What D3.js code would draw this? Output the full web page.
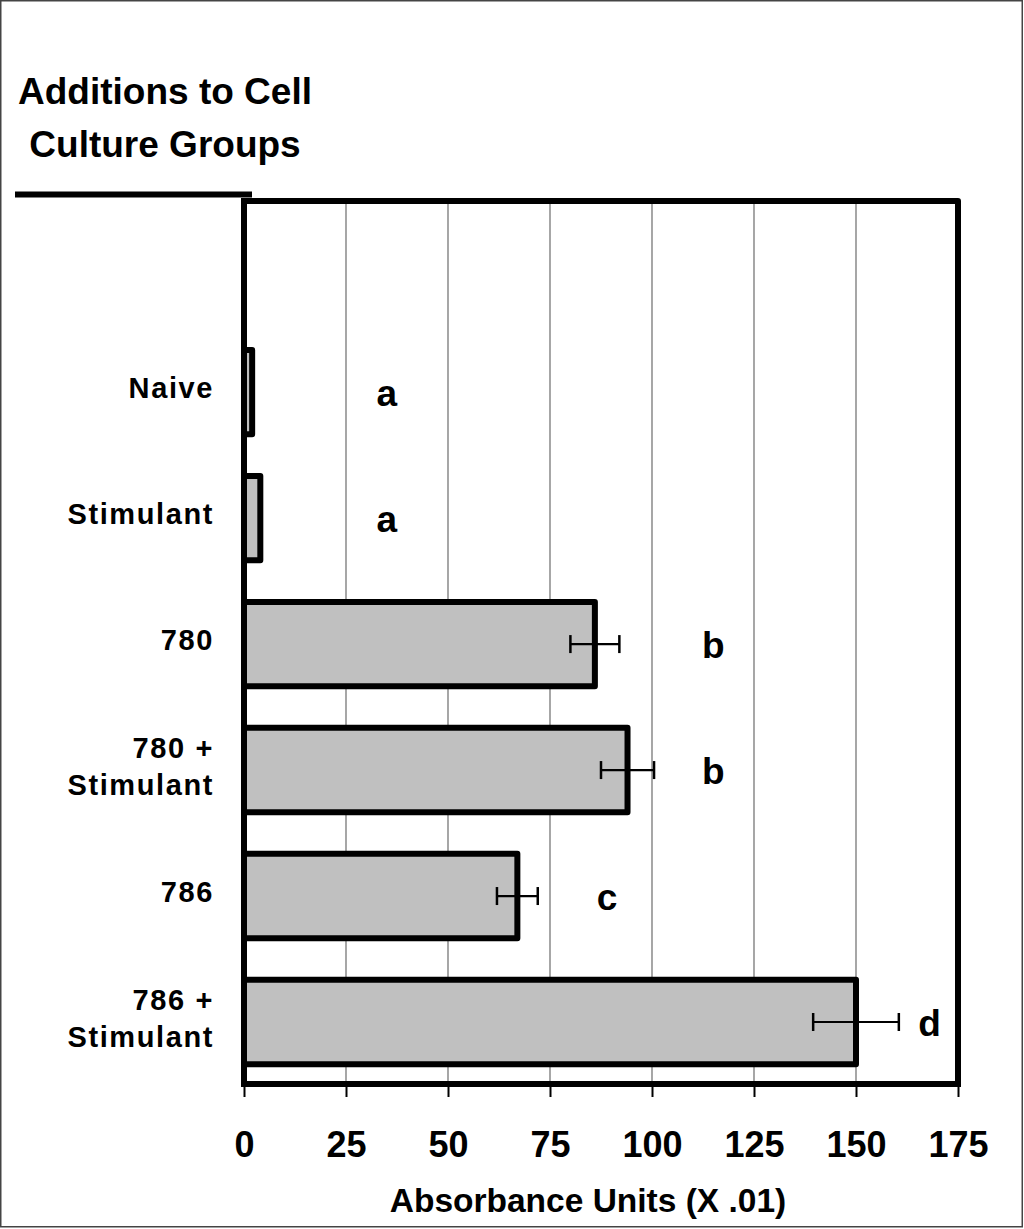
<!DOCTYPE html>
<html>
<head>
<meta charset="utf-8">
<script src="https://cdn.jsdelivr.net/npm/d3@7"></script>
<style>
  html, body { margin: 0; padding: 0; background: #fff; }
  svg { display: block; font-family: "Liberation Sans", Arial, Helvetica, sans-serif; font-weight: bold; }
</style>
</head>
<body>
<script>
// ---- data ----
const categories = ["Naive", "Stimulant", "780", "780 + Stimulant", "786", "786 + Stimulant"];
const categoryLines = [["Naive"], ["Stimulant"], ["780"], ["780 +", "Stimulant"], ["786"], ["786 +", "Stimulant"]];
const values = [2, 4, 86, 94, 67, 150];
const errors = [null, null, 6, 6.5, 5, 10.5];
const letters = ["a", "a", "b", "b", "c", "d"];
const letterAt = [35, 35, 115, 115, 89, 168];
const xTicks = [0, 25, 50, 75, 100, 125, 150, 175];
const titleLines = ["Additions to Cell", "Culture Groups"];
const xTitle = "Absorbance Units (X .01)";

// ---- layout ----
const W = 1024, H = 1229;
const plot = { left: 244, right: 958, top: 201, bottom: 1084 };

const svg = d3.select("body").append("svg").attr("width", W).attr("height", H);

// outer border
svg.append("rect").attr("x", 0.75).attr("y", 0.75).attr("width", W - 2.5).attr("height", H - 3)
  .attr("fill", "none").attr("stroke", "#444").attr("stroke-width", 1.5);

const x = d3.scaleLinear().domain([0, 175]).range([plot.left, plot.right]);
const step = (plot.bottom - plot.top) / 7;
const y = d3.scaleBand().domain(categories)
  .range([plot.top + step + 2, plot.bottom + 1])
  .paddingInner(0.33).paddingOuter(0.165);

// gridlines
svg.append("g").selectAll("line").data(xTicks.filter(t => t > 0 && t < 175)).join("line")
  .attr("x1", d => x(d)).attr("x2", d => x(d))
  .attr("y1", plot.top).attr("y2", plot.bottom)
  .attr("stroke", "#777").attr("stroke-width", 1.3);

// bars
const rows = categories.map((c, i) => ({ c, v: values[i], e: errors[i], l: letters[i], la: letterAt[i], lines: categoryLines[i] }));
svg.append("g").selectAll("rect").data(rows).join("rect")
  .attr("x", x(0)).attr("y", d => y(d.c))
  .attr("width", d => x(d.v) - x(0)).attr("height", y.bandwidth())
  .attr("fill", "#c0c0c0").attr("stroke", "#000").attr("stroke-width", 6)
  .attr("stroke-linejoin", "round");

// error bars
const eb = svg.append("g").selectAll("g").data(rows.filter(d => d.e != null)).join("g")
  .attr("transform", d => `translate(0,${y(d.c) + y.bandwidth() / 2})`);
eb.append("line").attr("x1", d => x(d.v - d.e)).attr("x2", d => x(d.v + d.e))
  .attr("stroke", "#000").attr("stroke-width", 2.2);
eb.append("line").attr("x1", d => x(d.v - d.e)).attr("x2", d => x(d.v - d.e))
  .attr("y1", -9).attr("y2", 9).attr("stroke", "#000").attr("stroke-width", 2.5);
eb.append("line").attr("x1", d => x(d.v + d.e)).attr("x2", d => x(d.v + d.e))
  .attr("y1", -9).attr("y2", 9).attr("stroke", "#000").attr("stroke-width", 2.5);

// significance letters
svg.append("g").selectAll("text").data(rows).join("text")
  .attr("x", d => x(d.la)).attr("y", d => y(d.c) + y.bandwidth() / 2 + 14)
  .attr("text-anchor", "middle").attr("font-size", 37).text(d => d.l);

// frame: top, right
svg.append("path")
  .attr("d", `M${plot.left},${plot.top}H${plot.right}V${plot.bottom}`)
  .attr("fill", "none").attr("stroke", "#000").attr("stroke-width", 6).attr("stroke-linejoin", "round");

// x axis
const xAxis = svg.append("g").attr("transform", `translate(0,${plot.bottom})`)
  .call(d3.axisBottom(x).tickValues(xTicks).tickSize(13).tickPadding(34).tickFormat(d3.format("d")));
xAxis.select(".domain").attr("stroke", "#000").attr("stroke-width", 6)
  .attr("d", `M${plot.left - 3},0H${plot.right + 3}`);
xAxis.selectAll(".tick line").attr("stroke", "#000").attr("stroke-width", 2);
xAxis.selectAll(".tick text").attr("font-size", 36).attr("font-family", "Liberation Sans, Arial, sans-serif")
  .attr("font-weight", "bold").attr("fill", "#000");

// y axis line
svg.append("line").attr("x1", plot.left).attr("x2", plot.left)
  .attr("y1", plot.top - 3).attr("y2", plot.bottom + 3)
  .attr("stroke", "#000").attr("stroke-width", 6);

// category labels
const lab = svg.append("g").selectAll("text").data(rows).join("text")
  .attr("text-anchor", "end").attr("font-size", 29).attr("letter-spacing", 1.6)
  .attr("x", 214)
  .attr("y", d => y(d.c) + y.bandwidth() / 2 + 6 - (d.lines.length - 1) * 18.5);
lab.selectAll("tspan").data(d => d.lines).join("tspan")
  .attr("x", 214).attr("dy", (d, i) => i === 0 ? 0 : 37).text(d => d);

// title
svg.append("g").selectAll("text").data(titleLines).join("text")
  .attr("x", 165).attr("y", (d, i) => 104 + i * 53)
  .attr("text-anchor", "middle").attr("font-size", 37).text(d => d);
svg.append("line").attr("x1", 15).attr("x2", 252).attr("y1", 194.5).attr("y2", 194.5)
  .attr("stroke", "#000").attr("stroke-width", 6);

// x title
svg.append("text").attr("x", 588).attr("y", 1212).attr("text-anchor", "middle")
  .attr("font-size", 33.5).text(xTitle);
</script>
</body>
</html>
